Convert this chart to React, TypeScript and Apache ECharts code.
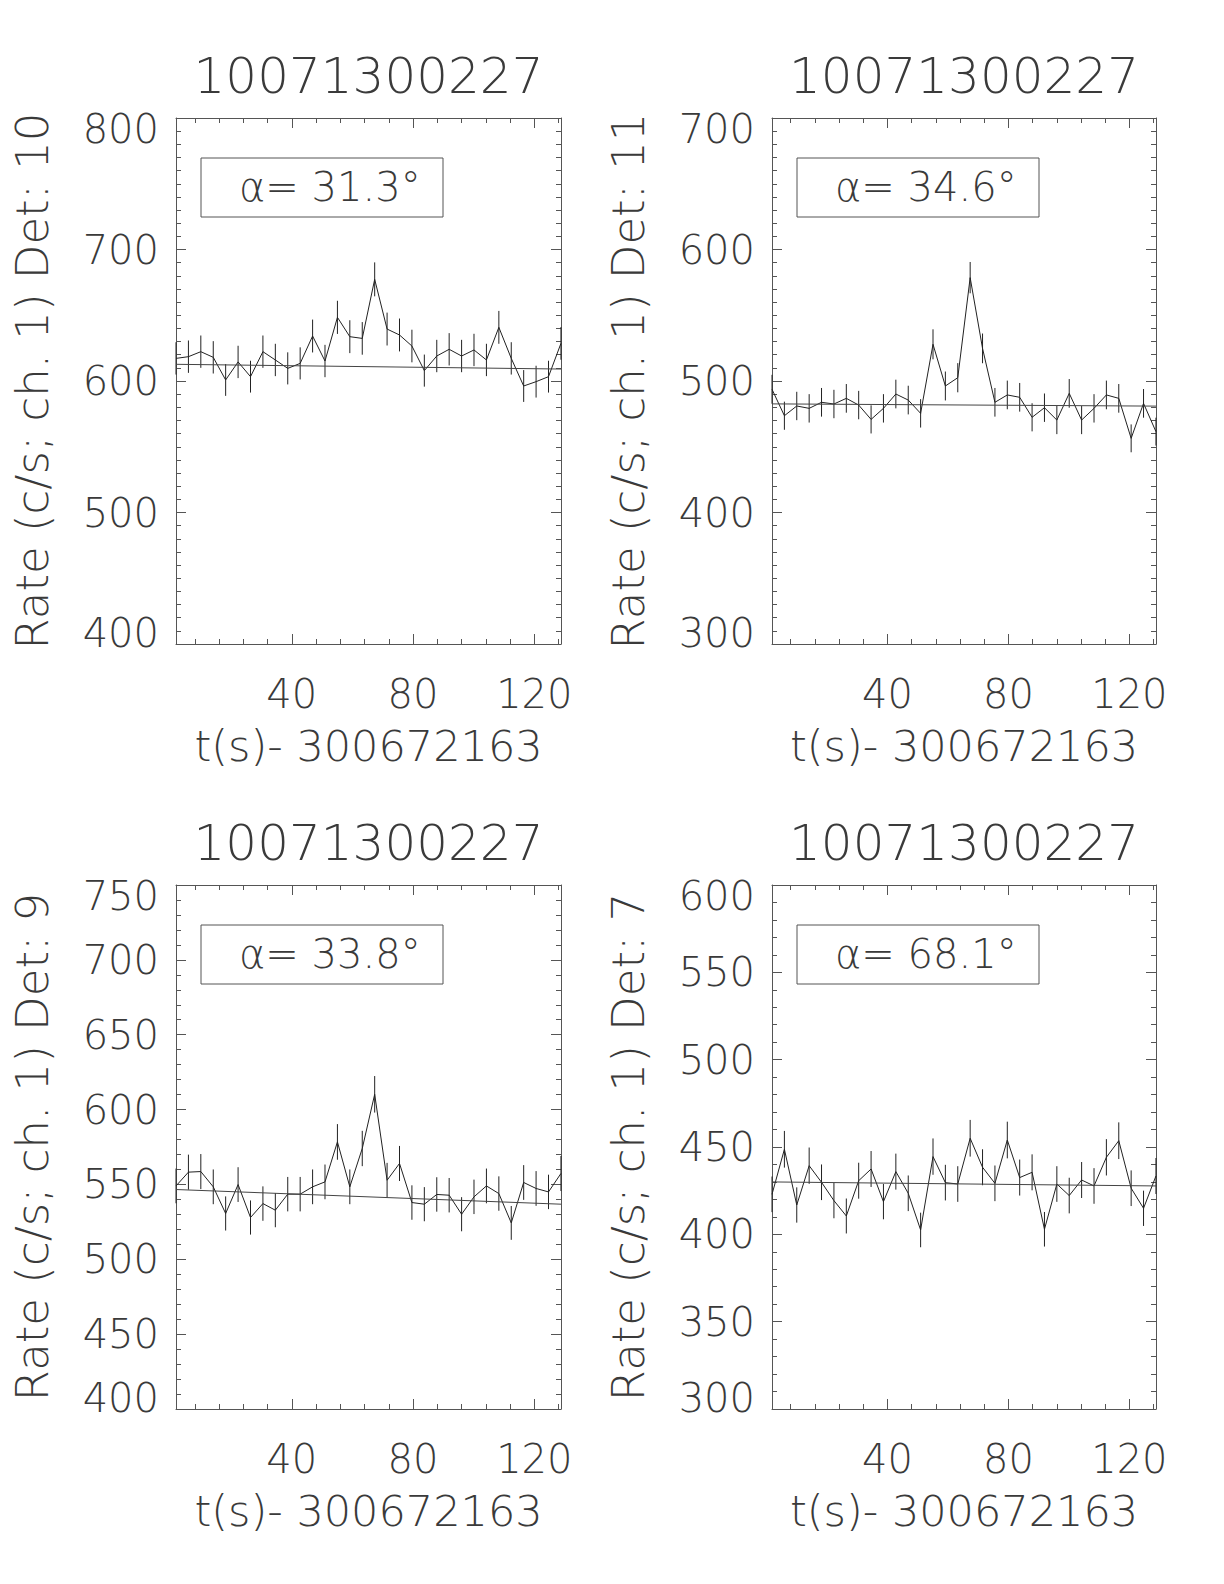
import React, { useEffect, useRef } from "react";
import * as echarts from "echarts";

// ---------- data ----------
const OBS_ID = "10071300227";
const X_AXIS_NAME = "t(s)- 300672163";
const TIMES = [
  1.8, 5.9, 9.99, 14.09, 18.18, 22.28, 26.38, 30.47, 34.57, 38.66, 42.76, 46.86,
  50.95, 55.05, 59.14, 63.24, 67.34, 71.43, 75.53, 79.62, 83.72, 87.82, 91.91,
  96.01, 100.1, 104.2, 108.3, 112.39, 116.49, 120.58, 124.68, 128.78,
];
const X_TICK_LABELS = [40, 80, 120];
const X_MINOR_TICKS = [8, 16, 24, 32, 48, 56, 64, 72, 88, 96, 104, 112, 128];

const DETECTORS = ["10", "11", "9", "7"];
const ALPHAS = ["31.3", "34.6", "33.8", "68.1"];

const RATE_DET10 = [
  617.2, 618.5, 622.3, 618.0, 600.8, 614.5, 603.3, 622.3, 616.0, 609.6, 613.4,
  634.2, 615.2, 648.4, 633.7, 632.4, 677.3, 639.5, 635.0, 626.6, 607.9, 619.0,
  624.1, 619.0, 623.6, 616.0, 640.8, 617.2, 596.2, 599.5, 603.3, 628.6,
];
const ERR_DET10 = [
  12.3, 12.3, 12.3, 12.3, 12.1, 12.3, 12.1, 12.3, 12.3, 12.2, 12.2, 12.5, 12.3,
  12.6, 12.5, 12.4, 12.9, 12.5, 12.5, 12.4, 12.2, 12.3, 12.3, 12.3, 12.3, 12.3,
  12.5, 12.3, 12.1, 12.1, 12.1, 12.4,
];
const BKG_DET10 = [612.7, 609.1];

const RATE_DET11 = [
  493.7, 473.6, 481.0, 479.2, 483.8, 482.5, 486.8, 481.7, 470.8, 479.2, 490.1,
  485.5, 475.4, 527.9, 496.2, 502.5, 578.6, 524.8, 483.8, 489.4, 487.6, 472.4,
  479.7, 470.3, 490.6, 470.3, 479.2, 489.4, 486.8, 456.4, 483.0, 461.5,
];
const ERR_DET11 = [
  11.0, 10.7, 10.8, 10.8, 10.9, 10.8, 10.9, 10.8, 10.7, 10.8, 10.9, 10.9, 10.8,
  11.4, 11.0, 11.1, 11.9, 11.3, 10.9, 10.9, 10.9, 10.7, 10.8, 10.7, 10.9, 10.7,
  10.8, 10.9, 10.9, 10.6, 10.9, 10.6,
];
const BKG_DET11 = [482.6, 480.9];

const RATE_DET9 = [
  549.0, 558.2, 558.6, 548.4, 530.6, 549.9, 527.9, 537.2, 532.8, 543.5, 543.5,
  548.4, 551.7, 578.4, 548.4, 574.0, 610.2, 552.8, 564.0, 537.9, 536.8, 543.3,
  542.8, 530.1, 541.7, 549.0, 543.9, 524.3, 551.3, 547.3, 545.0, 557.3,
];
const ERR_DET9 = [
  11.6, 11.7, 11.7, 11.6, 11.4, 11.6, 11.4, 11.5, 11.4, 11.5, 11.5, 11.6, 11.6,
  11.9, 11.6, 11.8, 12.2, 11.6, 11.7, 11.5, 11.4, 11.5, 11.5, 11.4, 11.5, 11.6,
  11.5, 11.3, 11.6, 11.6, 11.5, 11.7,
];
const BKG_DET9 = [546.6, 536.8];

const RATE_DET7 = [
  422.9, 448.7, 416.8, 439.3, 429.8, 419.3, 410.5, 430.7, 437.4, 418.7, 435.9,
  423.5, 402.5, 444.5, 429.6, 428.8, 455.0, 438.4, 429.2, 454.0, 432.5, 435.5,
  402.9, 428.8, 422.2, 431.1, 427.7, 444.1, 453.6, 426.4, 414.9, 433.4,
];
const ERR_DET7 = [
  10.2, 10.5, 10.1, 10.4, 10.2, 10.1, 10.0, 10.3, 10.3, 10.1, 10.3, 10.2, 9.9,
  10.4, 10.2, 10.2, 10.5, 10.3, 10.2, 10.5, 10.3, 10.3, 9.9, 10.2, 10.2, 10.3,
  10.2, 10.4, 10.5, 10.2, 10.1, 10.3,
];
const BKG_DET7 = [430.0, 427.7];

const Y_RANGES = [
  [400, 800],
  [300, 700],
  [400, 750],
  [300, 600],
];
const Y_INTERVALS = [100, 100, 50, 50];

const RATES = [RATE_DET10, RATE_DET11, RATE_DET9, RATE_DET7];
const ERRS = [ERR_DET10, ERR_DET11, ERR_DET9, ERR_DET7];
const BKGS = [BKG_DET10, BKG_DET11, BKG_DET9, BKG_DET7];

// ---------- layout / style ----------
const GRIDS = [
  { left: 176, top: 118, width: 385, height: 526 },
  { left: 772, top: 118, width: 384, height: 526 },
  { left: 176, top: 885, width: 385, height: 524 },
  { left: 772, top: 885, width: 384, height: 524 },
];
const T_MIN = 1.8;
const T_MAX = 128.8;
const FONT = '"DejaVu Sans", sans-serif';
const TEXT_COLOR = "#3a3a3a";
const LINE_COLOR = "#222";
const FRAME_COLOR = "#555";

function buildOption() {
  const xAxes: any[] = [];
  const yAxes: any[] = [];
  const series: any[] = [];
  const graphics: any[] = [];

  const labelFont = {
    fontSize: 40,
    fontFamily: FONT,
    fontWeight: 200,
    color: TEXT_COLOR,
  };

  GRIDS.forEach((g, i) => {
    const line = { show: true, lineStyle: { color: FRAME_COLOR, width: 1 } };
    const majorTick = (pos: string) => ({
      type: "value",
      gridIndex: i,
      position: pos,
      min: T_MIN,
      max: T_MAX,
      axisLine: line,
      splitLine: { show: false },
      axisTick: {
        show: true,
        inside: true,
        length: 10,
        customValues: X_TICK_LABELS,
        lineStyle: { color: FRAME_COLOR, width: 1 },
      },
      axisLabel:
        pos === "bottom"
          ? {
              show: true,
              customValues: X_TICK_LABELS,
              ...labelFont,
              margin: 30,
            }
          : { show: false },
      name: pos === "bottom" ? X_AXIS_NAME : "",
      nameLocation: "middle",
      nameGap: 80,
      nameTextStyle: {
        fontSize: 43,
        fontFamily: FONT,
        fontWeight: 200,
        color: TEXT_COLOR,
      },
    });
    const minorTick = (pos: string) => ({
      type: "value",
      gridIndex: i,
      position: pos,
      min: T_MIN,
      max: T_MAX,
      axisLine: { show: false },
      splitLine: { show: false },
      axisTick: {
        show: true,
        inside: true,
        length: 5,
        customValues: X_MINOR_TICKS,
        lineStyle: { color: FRAME_COLOR, width: 1 },
      },
      axisLabel: { show: false },
    });
    xAxes.push(majorTick("bottom"), minorTick("bottom"), majorTick("top"), minorTick("top"));

    const [ymin, ymax] = Y_RANGES[i];
    const interval = Y_INTERVALS[i];
    const ySide = (pos: string) => ({
      type: "value",
      gridIndex: i,
      position: pos,
      min: ymin,
      max: ymax,
      interval,
      axisLine: line,
      splitLine: { show: false },
      axisTick: {
        show: true,
        inside: true,
        length: 10,
        lineStyle: { color: FRAME_COLOR, width: 1 },
      },
      minorTick: {
        show: true,
        splitNumber: interval / 10,
        length: 5,
        lineStyle: { color: FRAME_COLOR, width: 1 },
      },
      minorSplitLine: { show: false },
      axisLabel:
        pos === "left"
          ? {
              show: true,
              ...labelFont,
              margin: 17,
              formatter: (v: number) =>
                v === ymax ? `{hi|${v}}` : v === ymin ? `{lo|${v}}` : `${v}`,
              rich: {
                hi: { ...labelFont, padding: [22, 0, 0, 0] },
                lo: { ...labelFont, padding: [0, 0, 22, 0] },
              },
            }
          : { show: false },
      name: pos === "left" ? `Rate (c/s; ch. 1) Det: ${DETECTORS[i]}` : "",
      nameLocation: "middle",
      nameGap: 121,
      nameTextStyle: {
        fontSize: 45,
        fontFamily: FONT,
        fontWeight: 200,
        color: TEXT_COLOR,
      },
    });
    yAxes.push(ySide("left"), ySide("right"));

    const rate = RATES[i];
    const err = ERRS[i];
    const bkg = BKGS[i];

    series.push({
      type: "line",
      xAxisIndex: i * 4,
      yAxisIndex: i * 2,
      data: TIMES.map((t, k) => [t, rate[k]]),
      symbol: "none",
      lineStyle: { color: LINE_COLOR, width: 1 },
      silent: true,
    });
    series.push({
      type: "custom",
      xAxisIndex: i * 4,
      yAxisIndex: i * 2,
      data: TIMES.map((t, k) => [t, rate[k] - err[k], rate[k] + err[k]]),
      renderItem: (params: any, api: any) => {
        const p1 = api.coord([api.value(0), api.value(1)]);
        const p2 = api.coord([api.value(0), api.value(2)]);
        return {
          type: "line",
          shape: { x1: p1[0], y1: p1[1], x2: p2[0], y2: p2[1] },
          style: { stroke: LINE_COLOR, lineWidth: 1 },
        };
      },
      silent: true,
    });
    series.push({
      type: "line",
      xAxisIndex: i * 4,
      yAxisIndex: i * 2,
      data: [
        [T_MIN, bkg[0]],
        [T_MAX, bkg[1]],
      ],
      symbol: "none",
      lineStyle: { color: "#444", width: 1 },
      silent: true,
    });

    // title
    graphics.push({
      type: "text",
      x: g.left + g.width / 2,
      y: g.top - 42,
      style: {
        text: OBS_ID,
        fontSize: 50,
        fontFamily: FONT,
        fontWeight: 200,
        fill: TEXT_COLOR,
        align: "center",
        verticalAlign: "middle",
      },
    });
    // alpha box
    graphics.push({
      type: "rect",
      shape: { x: g.left + 25, y: g.top + 40, width: 242, height: 59 },
      style: { fill: "none", stroke: FRAME_COLOR, lineWidth: 1 },
    });
    graphics.push({
      type: "text",
      x: g.left + 63,
      y: g.top + 69,
      style: {
        text: `α= ${ALPHAS[i]}°`,
        fontSize: 40,
        fontFamily: FONT,
        fontWeight: 200,
        fill: TEXT_COLOR,
        align: "left",
        verticalAlign: "middle",
      },
    });
  });

  return {
    animation: false,
    backgroundColor: "#fff",
    grid: GRIDS.map((g) => ({ ...g, containLabel: false })),
    xAxis: xAxes,
    yAxis: yAxes,
    series,
    graphic: graphics,
  };
}

export default function App() {
  const ref = useRef<HTMLDivElement>(null);
  useEffect(() => {
    if (!ref.current) return;
    const chart = echarts.init(ref.current, undefined, { renderer: "svg" });
    chart.setOption(buildOption());
    return () => chart.dispose();
  }, []);
  return (
    <div
      ref={ref}
      style={{
        position: "absolute",
        left: 0,
        top: 0,
        width: 1224,
        height: 1584,
        background: "#fff",
      }}
    />
  );
}
